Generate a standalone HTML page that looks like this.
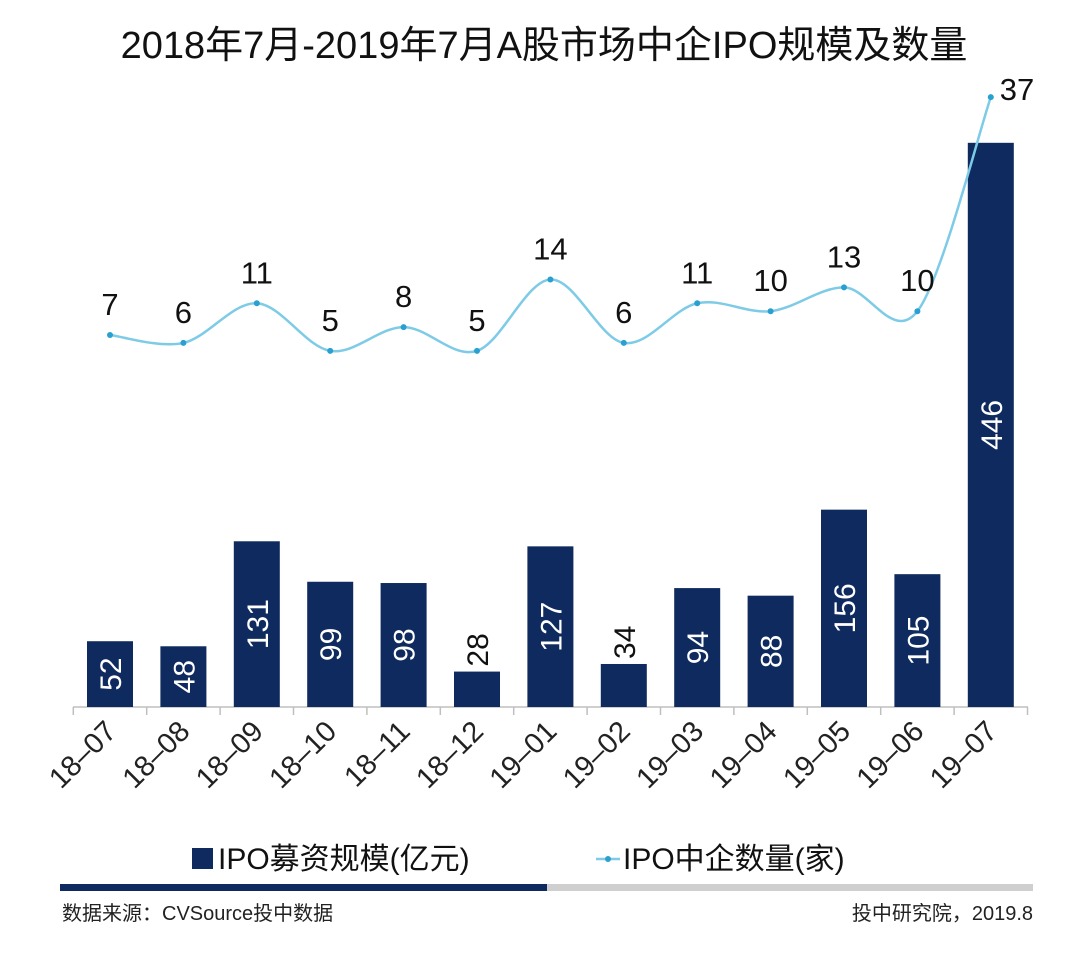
<!DOCTYPE html>
<html><head><meta charset="utf-8">
<style>
html,body{margin:0;padding:0;background:#fff;}
body{width:1080px;height:961px;overflow:hidden;font-family:"Liberation Sans","Noto Sans CJK SC",sans-serif;}
</style></head>
<body>
<svg id="chart" width="1080" height="961" viewBox="0 0 1080 961" xmlns="http://www.w3.org/2000/svg" font-family="Liberation Sans, Noto Sans CJK SC, sans-serif">
<text x="544" y="58" text-anchor="middle" font-size="38" fill="#111">2018年7月-2019年7月A股市场中企IPO规模及数量</text>
<line x1="73" y1="707" x2="1028" y2="707" stroke="#bfbfbf" stroke-width="1.5"/>
<g id="ticks"></g><g id="bars"></g><g id="line"></g><g id="xlabels"></g>
<g>
<rect x="192" y="848" width="21" height="21" fill="#0e2a5e"/>
<text x="218" y="869" font-size="30" fill="#111">IPO募资规模(亿元)</text>
<line x1="596" y1="859" x2="620" y2="859" stroke="#7dcbe6" stroke-width="2.5"/>
<circle cx="608" cy="859" r="3" fill="#2aa0d0"/>
<text x="623" y="869" font-size="30" fill="#111">IPO中企数量(家)</text>
</g>
<rect x="60" y="884" width="487" height="7" fill="#0e2a5e"/>
<rect x="547" y="884" width="486" height="7" fill="#cfcfcf"/>
<text x="62" y="920" font-size="20" fill="#222">数据来源：CVSource投中数据</text>
<text x="1033" y="920" font-size="20" fill="#222" text-anchor="end">投中研究院，2019.8</text>
</svg>
<script>
const categories=["18-07","18-08","18-09","18-10","18-11","18-12","19-01","19-02","19-03","19-04","19-05","19-06","19-07"];
const amounts=[52,48,131,99,98,28,127,34,94,88,156,105,446];
const counts=[7,6,11,5,8,5,14,6,11,10,13,10,37];
const NS="http://www.w3.org/2000/svg";
const x0=110,step=73.4,base=707;
const xs=i=>x0+i*step;
const yBar=v=>base-v*1.265;
const yLine=v=>335-(v-7)*7.93;
function mk(tag,attrs,parent){const e=document.createElementNS(NS,tag);for(const k in attrs)e.setAttribute(k,attrs[k]);parent.appendChild(e);return e;}
const gT=document.getElementById('ticks'),gB=document.getElementById('bars'),gL=document.getElementById('line'),gX=document.getElementById('xlabels');
for(let i=0;i<=categories.length;i++){
 const t=mk('line',{x1:xs(i)-step/2,y1:base,x2:xs(i)-step/2,y2:base+8,stroke:'#bfbfbf','stroke-width':1.5},gT);
 
 
}
amounts.forEach((v,i)=>{
 const r=mk('rect',{x:xs(i)-23,y:yBar(v),width:46,height:base-yBar(v),fill:'#0e2a5e'},gB);
 
 
 const h=base-yBar(v);
 const inside=h>60;
 const ty=inside?(yBar(v)+base)/2:yBar(v)-5;
 const t=mk('text',{x:0,y:0,transform:`translate(${xs(i)+11},${ty}) rotate(-90)`,'font-size':30,fill:inside?'#fff':'#111','text-anchor':inside?'middle':'start'},gB);
 t.textContent=v;
 
 
 const xl=mk('text',{x:0,y:0,transform:`translate(${xs(i)+8},${base+26}) rotate(-45)`,'font-size':29,fill:'#222','text-anchor':'end'},gX);
 xl.textContent=categories[i].replace('-','–');
 
 
});
const pts=counts.map((v,i)=>[xs(i),yLine(v)]);
let d=`M${pts[0][0]},${pts[0][1]}`;
for(let i=0;i<pts.length-1;i++){
 const p0=pts[i-1]||pts[i],p1=pts[i],p2=pts[i+1],p3=pts[i+2]||p2;
 const c1=[p1[0]+(p2[0]-p0[0])/6,p1[1]+(p2[1]-p0[1])/6],c2=[p2[0]-(p3[0]-p1[0])/6,p2[1]-(p3[1]-p1[1])/6];
 d+=` C${c1[0]},${c1[1]} ${c2[0]},${c2[1]} ${p2[0]},${p2[1]}`;
}
const path=mk('path',{d:d,fill:'none',stroke:'#7dcbe6','stroke-width':2.5},gL);


counts.forEach((v,i)=>{
 const c=mk('circle',{cx:pts[i][0],cy:pts[i][1],r:3,fill:'#2aa0d0'},gL);
 
 
 const last=i===counts.length-1;
 const t=mk('text',{x:last?pts[i][0]+9:pts[i][0],y:last?pts[i][1]+3:pts[i][1]-20,'font-size':31,fill:'#111','text-anchor':last?'start':'middle'},gL);
 t.textContent=v;
 
 
});
</script>
</body></html>
